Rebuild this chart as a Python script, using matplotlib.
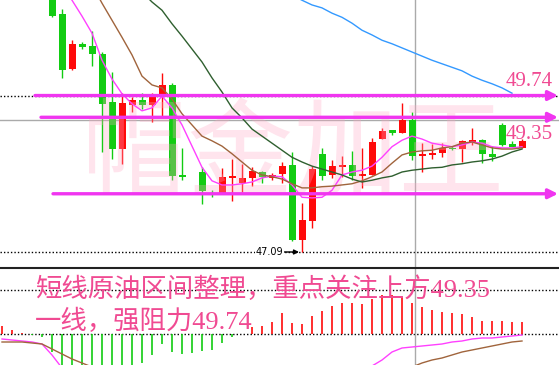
import numpy as np
import matplotlib.pyplot as plt

# candle k sits at pixel x = 2 + 10k
bar_idx = np.arange(5, 53)
opens = [51.63, 51.14, 50.20, 50.63, 50.59, 50.46, 49.64, 48.84, 49.59, 49.67, 49.59, 49.72, 49.93, 48.40, np.nan,
         48.45, 48.09, 48.09, 48.35, 48.26, 48.35, 48.45, 48.35, 48.42, 48.57, 47.29, 47.62, 48.76, 48.40, 48.54,
         48.57, 48.38, 48.40, 49.01, 49.16, 49.11, 49.33, 48.72, 48.74, 48.77, 48.86, 48.84, 48.96, 48.99, 48.76,
         49.25, 48.93, 48.86]
highs = [51.71, 51.22, 50.69, 50.66, 50.85, 50.49, 50.15, 49.79, 49.72, 49.79, 49.79, 50.13, 49.96, 48.86, np.nan,
         48.54, 48.14, 48.52, 48.67, 48.59, 48.54, 48.47, 48.43, 48.62, 48.79, 47.92, 48.55, 48.86, 48.65, 48.72,
         48.81, 48.86, 49.03, 49.20, 49.16, 49.62, 49.47, 48.94, 48.93, 48.94, 48.89, 48.99, 49.20, 49.01, 48.89,
         49.28, 48.98, 49.01]
lows = [51.08, 50.05, 50.18, 50.54, 50.25, 48.79, 48.67, 48.59, 49.47, 49.52, 49.30, 49.39, 48.31, 48.31, np.nan,
        47.91, 48.02, 48.09, 47.96, 48.11, 48.21, 48.26, 48.31, 48.26, 47.28, 47.09, 47.50, 48.31, 48.35, 48.37,
        48.31, 48.18, 48.40, 49.01, 49.08, 49.11, 48.65, 48.45, 48.67, 48.70, 48.82, 48.62, 48.91, 48.60, 48.64,
        48.89, 48.88, 48.86]
closes = [51.10, 50.18, 50.63, 50.57, 50.46, 49.61, 48.84, 49.62, 49.67, 49.59, 49.72, 49.93, 48.38, 48.37, np.nan,
          48.13, 48.08, 48.37, 48.38, 48.35, 48.47, 48.37, 48.40, 48.55, 47.29, 47.63, 48.50, 48.38, 48.55, 48.57,
          48.38, 48.42, 48.96, 49.15, 49.11, 49.33, 48.72, 48.76, 48.77, 48.86, 48.84, 48.98, 48.99, 48.76, 48.71,
          48.91, 48.88, 48.98]

# moving averages (first bar index, values)
ma5_start = 6
ma5 = [51.65, 51.37, 51.10, 50.81, 50.35, 50.03, 49.78, 49.61, 49.49, 49.54, 49.74, 49.54, 49.25, 48.89, 48.53,
       48.30, 48.23, 48.23, 48.25, 48.28, 48.35, 48.38, 48.37, 48.23, 48.02, 48.01, 48.02, 48.14, 48.40, 48.45,
       48.48, 48.55, 48.70, 48.88, 48.99, 49.06, 49.01, 48.94, 48.91, 48.88, 48.91, 48.96, 48.94, 48.88, 48.86,
       48.86, 48.88]
ma10_start = 9
ma10 = [51.63, 51.32, 51.03, 50.74, 50.44, 50.08, 49.93, 49.88, 49.69, 49.44, 49.25, 49.06, 48.98, 48.89, 48.76,
        48.62, 48.48, 48.40, 48.37, 48.33, 48.25, 48.18, 48.18, 48.20, 48.21, 48.23, 48.25, 48.30, 48.37, 48.45,
        48.60, 48.74, 48.79, 48.81, 48.82, 48.86, 48.88, 48.94, 48.96, 48.91, 48.86, 48.84, 48.84, 48.86]
ma20_start = 14
ma20 = [51.51, 51.34, 51.20, 50.97, 50.76, 50.54, 50.32, 50.05, 49.81, 49.54, 49.37, 49.18, 49.06, 48.94, 48.82,
        48.70, 48.62, 48.55, 48.50, 48.45, 48.40, 48.33, 48.28, 48.31, 48.35, 48.38, 48.45, 48.48, 48.50, 48.52,
        48.53, 48.57, 48.59, 48.62, 48.64, 48.67, 48.72, 48.79, 48.84]
ma60_start = 29
ma60 = [51.46, 51.37, 51.29, 51.24, 51.15, 51.08, 50.98, 50.86, 50.78, 50.69, 50.63, 50.56, 50.49, 50.42, 50.35,
        50.29, 50.23, 50.17, 50.08, 50.01, 49.95, 49.88, 49.79]

# MACD panel, bars 0..52 (nan = below the visible panel)
nan = np.nan
macd_hist = [0.08, 0.04, 0.01, -0.01, -0.03, -0.18, -0.36, -0.42, -0.46, -0.48, -0.47, -0.44, -0.40, -0.34,
             -0.29, -0.21, -0.10, -0.18, -0.20, -0.19, -0.17, -0.16, -0.09, -0.03, 0.0, 0.07, 0.08, 0.12, 0.21,
             0.11, 0.10, 0.18, 0.23, 0.28, 0.31, 0.31, 0.30, 0.35, 0.39, 0.39, 0.37, 0.31, 0.27, 0.24, 0.22,
             0.21, 0.20, 0.17, 0.13, 0.13, 0.13, 0.12, 0.12]
dif = [-0.05, -0.06, -0.07, -0.08, -0.10, -0.21, -0.34] + [nan] * 30 + \
      [-0.32, -0.26, -0.18, -0.14, -0.13, -0.12, -0.11, -0.10, -0.08, -0.07, -0.05, -0.04, -0.04, -0.03, -0.02, -0.01]
dea = [-0.08, -0.08, -0.08, -0.09, -0.10, -0.15, -0.20, -0.25, -0.29, -0.33] + [nan] * 30 + \
      [-0.37, -0.33, -0.29, -0.26, -0.24, -0.21, -0.18, -0.16, -0.14, -0.12, -0.10, -0.08, -0.07]

# key levels
resist_hi = 49.74
resist_lo = 49.35
support = 48.08
low_price = 47.09

line1 = "短线原油区间整理，重点关注上方49.35"
line2 = "一线，强阻力49.74"
watermark = "帽金加王"

UP = '#ff0a0a'
DOWN = '#12cc12'
PINK = '#f04a92'
MAG = '#f035f0'

W, H = 559, 365
fig = plt.figure(figsize=(W / 100, H / 100), dpi=100)
ax = fig.add_axes([0, 97 / H, 1, 268 / H])
ax2 = fig.add_axes([0, 0, 1, 97 / H])
xlim = (-0.2, 55.7)

# ---- main price panel ----
o = np.array(opens)
c = np.array(closes)
colors = np.where(c >= o, UP, DOWN)
ax.vlines(bar_idx, lows, highs, colors=colors, lw=1, zorder=2)
body = np.maximum(np.abs(c - o), 0.02)
ax.bar(bar_idx, body, bottom=np.minimum(o, c), width=0.7, color=colors, zorder=2)

# faint watermark over the candles
ax.text(82 / W, 1 - 157 / H, watermark, transform=fig.transFigure, fontsize=76,
        family=['Noto Sans CJK SC'], color='#ffa8c4', alpha=0.3,
        va='center', ha='left', zorder=3)

ax.plot(np.arange(ma5_start, ma5_start + len(ma5)), ma5, color='#ff40ff', lw=1, zorder=4)
ax.plot(np.arange(ma10_start, ma10_start + len(ma10)), ma10, color='#a0643c', lw=1, zorder=4)
ax.plot(np.arange(ma20_start, ma20_start + len(ma20)), ma20, color='#2f5f2f', lw=1, zorder=4)
ax.plot(np.arange(ma60_start, ma60_start + len(ma60)), ma60, color='#3399ff', lw=1, zorder=4)

ax.axhline(resist_hi, color='black', lw=1, ls=(0, (1, 1.5)), zorder=1)
ax.axhline(resist_lo - 0.01, color='#aaaaaa', lw=1, zorder=1)
ax.axhline(low_price, color='black', lw=1, ls=(0, (1, 1.5)), zorder=1)
ax.axvline(41.3, color='#aaaaaa', lw=1, zorder=1)

for level, x0 in [(resist_hi + 0.01, 3.3), (resist_lo + 0.03, 3.9), (support, 5.1)]:
    ax.annotate('', xy=(55.6, level), xytext=(x0, level),
                arrowprops=dict(arrowstyle='-|>', color=MAG, lw=2.4, mutation_scale=14,
                                shrinkA=0, shrinkB=0), zorder=5)

ax.annotate('47.09', xy=(29.7, low_price), xytext=(25.4, low_price), fontsize=7,
            va='center', ha='left', color='black',
            bbox=dict(facecolor='white', edgecolor='none', pad=0.5),
            arrowprops=dict(arrowstyle='-|>', color='black', lw=1, mutation_scale=7,
                            shrinkA=0, shrinkB=0), zorder=6)

ax.set_xlim(*xlim)
ax.set_ylim(46.818, 51.374)
ax.axis('off')

# ---- MACD panel ----
k_all = np.arange(len(macd_hist))
hist = np.array(macd_hist)
ax2.vlines(k_all, 0, hist, colors=np.where(hist >= 0, UP, DOWN), lw=1.2, zorder=2)
ax2.plot(k_all, dif, color='#ff40ff', lw=1, zorder=3)
ax2.plot(k_all, dea, color='#a0643c', lw=1, zorder=3)
ax2.axhline(0, color='black', lw=1, ls=(0, (1, 1.5)), zorder=1)
ax2.axhline(0.44, color='black', lw=1, ls=(0, (1, 1.5)), zorder=1)
ax2.axvline(41.3, color='#aaaaaa', lw=1, zorder=1)
ax2.set_xlim(*xlim)
ax2.set_ylim(-0.31, 0.66)
ax2.set_xticks([])
ax2.set_yticks([])
for side in ['left', 'right', 'bottom']:
    ax2.spines[side].set_visible(False)
ax2.spines['top'].set_color('#222222')
ax2.spines['top'].set_linewidth(1.5)

# ---- text overlays ----
serif_cjk = ['Liberation Serif', 'Noto Sans CJK SC']
fig.text(506 / W, 1 - 81 / H, f'{resist_hi:.2f}', fontsize=15, family='Liberation Serif',
         color=PINK, va='center', ha='left')
fig.text(506 / W, 1 - 134 / H, f'{resist_lo:.2f}', fontsize=15, family='Liberation Serif',
         color=PINK, va='center', ha='left')
fig.text(35 / W, 1 - 289 / H, line1, fontsize=19, family=serif_cjk, color=PINK,
         va='center', ha='left')
fig.text(35 / W, 1 - 321 / H, line2, fontsize=19, family=serif_cjk, color=PINK,
         va='center', ha='left')

fig.savefig('out.png', dpi=100)
